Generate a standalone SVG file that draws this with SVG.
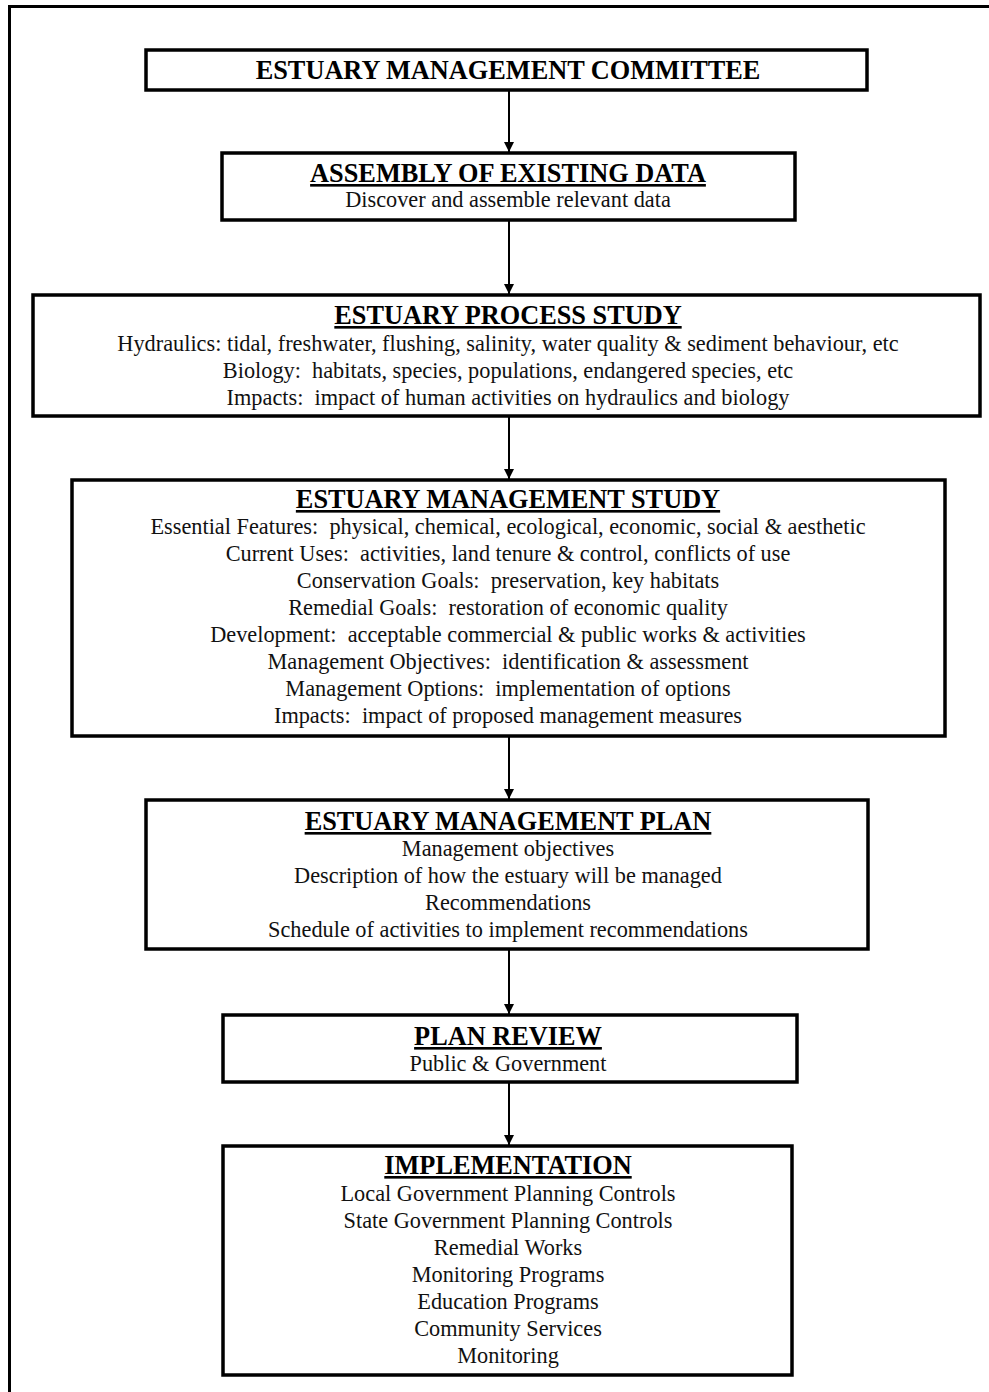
<svg xmlns="http://www.w3.org/2000/svg" width="989" height="1392" viewBox="0 0 989 1392" xml:space="preserve">
<style>
.box{fill:#fff;stroke:#000;stroke-width:3.5}
.frame{fill:none;stroke:#000;stroke-width:3}
.t{font-family:"Liberation Serif","DejaVu Serif",serif;font-size:26.3px;font-weight:bold;text-anchor:middle;fill:#000;white-space:pre}
.u{text-decoration:underline}
.b{font-family:"Liberation Serif","DejaVu Serif",serif;font-size:22.3px;text-anchor:middle;fill:#111;white-space:pre}
.c{stroke:#000;stroke-width:2;fill:none}
</style>
<defs>
<marker id="ah" viewBox="0 0 10 10" refX="10" refY="5" markerWidth="10" markerHeight="10" markerUnits="userSpaceOnUse" orient="auto">
<path d="M0,0 L10,5 L0,10 z" fill="#000"/>
</marker>
</defs>
<rect width="989" height="1392" fill="#fff"/>
<path class="frame" d="M9.5,1392 V6.5 H989"/>
<g id="connectors">
<line class="c" x1="509" y1="90" x2="509" y2="152" marker-end="url(#ah)"/>
<line class="c" x1="509" y1="220" x2="509" y2="294" marker-end="url(#ah)"/>
<line class="c" x1="509" y1="416" x2="509" y2="479" marker-end="url(#ah)"/>
<line class="c" x1="509" y1="736" x2="509" y2="799" marker-end="url(#ah)"/>
<line class="c" x1="509" y1="949" x2="509" y2="1014" marker-end="url(#ah)"/>
<line class="c" x1="509" y1="1082" x2="509" y2="1145" marker-end="url(#ah)"/>
</g>
<g id="committee">
<rect class="box" x="146" y="50" width="721" height="40"/>
<text class="t" x="508" y="79">ESTUARY MANAGEMENT COMMITTEE</text>
</g>
<g id="assembly">
<rect class="box" x="222" y="153" width="573" height="67"/>
<text class="t u" x="508" y="182">ASSEMBLY OF EXISTING DATA</text>
<text class="b" x="508" y="207">Discover and assemble relevant data</text>
</g>
<g id="process">
<rect class="box" x="33" y="295" width="947" height="121"/>
<text class="t u" x="508" y="324">ESTUARY PROCESS STUDY</text>
<text class="b" x="508" y="351">Hydraulics: tidal, freshwater, flushing, salinity, water quality &amp; sediment behaviour, etc</text>
<text class="b" x="508" y="378">Biology:  habitats, species, populations, endangered species, etc</text>
<text class="b" x="508" y="405">Impacts:  impact of human activities on hydraulics and biology</text>
</g>
<g id="mstudy">
<rect class="box" x="72" y="480" width="873" height="256"/>
<text class="t u" x="508" y="508">ESTUARY MANAGEMENT STUDY</text>
<text class="b" x="508" y="534">Essential Features:  physical, chemical, ecological, economic, social &amp; aesthetic</text>
<text class="b" x="508" y="561">Current Uses:  activities, land tenure &amp; control, conflicts of use</text>
<text class="b" x="508" y="588">Conservation Goals:  preservation, key habitats</text>
<text class="b" x="508" y="615">Remedial Goals:  restoration of economic quality</text>
<text class="b" x="508" y="642">Development:  acceptable commercial &amp; public works &amp; activities</text>
<text class="b" x="508" y="669">Management Objectives:  identification &amp; assessment</text>
<text class="b" x="508" y="696">Management Options:  implementation of options</text>
<text class="b" x="508" y="723">Impacts:  impact of proposed management measures</text>
</g>
<g id="plan">
<rect class="box" x="146" y="800" width="722" height="149"/>
<text class="t u" x="508" y="830">ESTUARY MANAGEMENT PLAN</text>
<text class="b" x="508" y="856">Management objectives</text>
<text class="b" x="508" y="883">Description of how the estuary will be managed</text>
<text class="b" x="508" y="910">Recommendations</text>
<text class="b" x="508" y="937">Schedule of activities to implement recommendations</text>
</g>
<g id="review">
<rect class="box" x="223" y="1015" width="574" height="67"/>
<text class="t u" x="508" y="1045">PLAN REVIEW</text>
<text class="b" x="508" y="1071">Public &amp; Government</text>
</g>
<g id="implementation">
<rect class="box" x="223" y="1146" width="569" height="229"/>
<text class="t u" x="508" y="1174">IMPLEMENTATION</text>
<text class="b" x="508" y="1201">Local Government Planning Controls</text>
<text class="b" x="508" y="1228">State Government Planning Controls</text>
<text class="b" x="508" y="1255">Remedial Works</text>
<text class="b" x="508" y="1282">Monitoring Programs</text>
<text class="b" x="508" y="1309">Education Programs</text>
<text class="b" x="508" y="1336">Community Services</text>
<text class="b" x="508" y="1363">Monitoring</text>
</g>
</svg>
